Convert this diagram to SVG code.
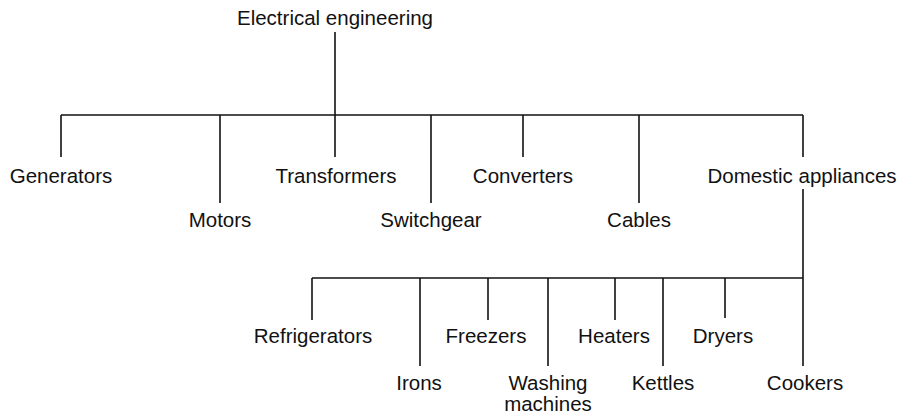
<svg xmlns="http://www.w3.org/2000/svg" width="912" height="417" viewBox="0 0 912 417">
<style>
text{font-family:"Liberation Sans",Arial,sans-serif;font-size:20.5px;fill:#111;text-anchor:middle}
.c line{stroke:#111;stroke-width:1.6}
</style>
<rect width="912" height="417" fill="#fff"/>
<g class="c" id="connectors">
<line x1="335" y1="32" x2="335" y2="115"/>
<line x1="61" y1="115" x2="803" y2="115"/>
<line x1="61" y1="115" x2="61" y2="157"/>
<line x1="220" y1="115" x2="220" y2="203"/>
<line x1="335" y1="115" x2="335" y2="157"/>
<line x1="431" y1="115" x2="431" y2="203"/>
<line x1="523" y1="115" x2="523" y2="157"/>
<line x1="639" y1="115" x2="639" y2="203"/>
<line x1="803" y1="115" x2="803" y2="157"/>
<line x1="803" y1="189" x2="803" y2="278"/>
<line x1="312" y1="278" x2="803" y2="278"/>
<line x1="312" y1="278" x2="312" y2="320"/>
<line x1="420" y1="278" x2="420" y2="366"/>
<line x1="488" y1="278" x2="488" y2="320"/>
<line x1="548" y1="278" x2="548" y2="366"/>
<line x1="615" y1="278" x2="615" y2="320"/>
<line x1="663" y1="278" x2="663" y2="366"/>
<line x1="725" y1="278" x2="725" y2="318"/>
<line x1="803" y1="278" x2="803" y2="366"/>
</g>
<g id="root"><text x="335" y="25">Electrical engineering</text></g>
<g id="generators"><text x="61" y="183">Generators</text></g>
<g id="motors"><text x="220" y="227">Motors</text></g>
<g id="transformers"><text x="336" y="183">Transformers</text></g>
<g id="switchgear"><text x="431" y="227">Switchgear</text></g>
<g id="converters"><text x="523" y="183">Converters</text></g>
<g id="cables"><text x="639" y="227">Cables</text></g>
<g id="domestic"><text x="802" y="183">Domestic appliances</text></g>
<g id="refrigerators"><text x="313" y="343">Refrigerators</text></g>
<g id="irons"><text x="419" y="390">Irons</text></g>
<g id="freezers"><text x="486" y="343">Freezers</text></g>
<g id="washing"><text x="548" y="390">Washing</text><text x="548" y="411">machines</text></g>
<g id="heaters"><text x="614" y="343">Heaters</text></g>
<g id="kettles"><text x="663" y="390">Kettles</text></g>
<g id="dryers"><text x="723" y="343">Dryers</text></g>
<g id="cookers"><text x="805" y="390">Cookers</text></g>
</svg>
